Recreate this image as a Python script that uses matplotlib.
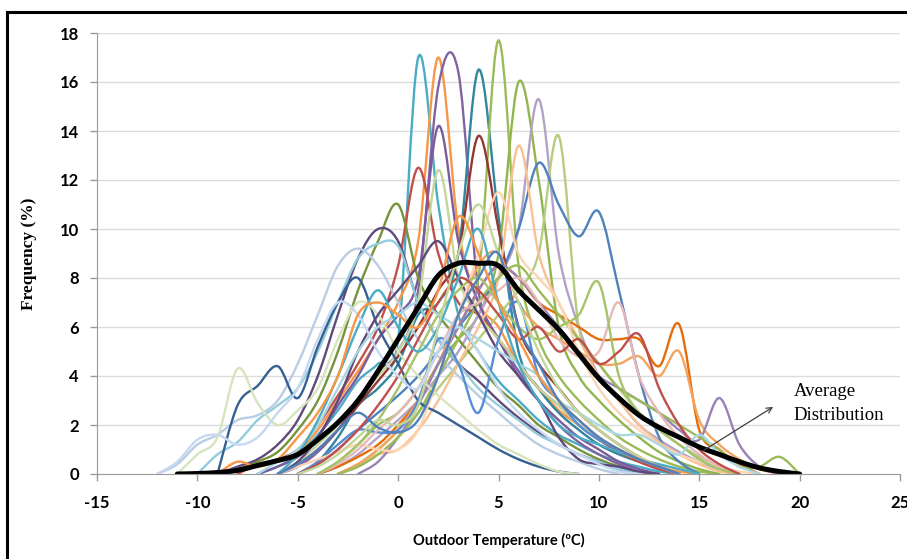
import matplotlib
matplotlib.use("Agg")
import matplotlib.pyplot as plt
from matplotlib.path import Path
from matplotlib.patches import PathPatch
from matplotlib.lines import Line2D

plt.rcParams["axes.unicode_minus"] = False

# ---------------- data (frequency % per 1 degC bin) ----------------
# each series: first temperature of the list, then its values
s01_start, s01 = -7, [0, 0.3, 0.8, 1.6, 2.6, 3.8, 4.5, 5.5, 17.0, 11.0, 6.5, 5.0, 3.8, 3.0, 2.2, 1.6, 1.2, 0.8, 0.5, 0.3, 0.1, 0]
s02_start, s02 = -8, [0, 0.4, 0.5, 0.9, 1.8, 3.0, 4.2, 5.5, 7.0, 9.5, 17.0, 10.0, 7.0, 6.0, 4.5, 3.5, 2.6, 2.0, 1.4, 1.0, 0.6, 0.3, 0.1, 0]
s03_start, s03 = -6, [0, 0.3, 0.9, 1.8, 3.0, 4.2, 5.0, 7.5, 15.8, 16.4, 7.5, 5.5, 4.2, 3.0, 2.0, 1.3, 0.8, 0.4, 0.1, 0]
s04_start, s04 = -5, [0, 0.5, 1.5, 2.8, 3.5, 4.5, 6.5, 7.0, 9.0, 16.5, 10.5, 5.0, 3.5, 2.5, 1.8, 1.2, 0.8, 0.5, 0.2, 0]
s05_start, s05 = -4, [0, 0.5, 1.2, 2.0, 2.5, 3.5, 5.0, 6.5, 8.0, 17.7, 8.5, 5.5, 4.0, 3.0, 2.2, 1.5, 1.0, 0.6, 0.3, 0.1, 0]
s06_start, s06 = -3, [0, 0.4, 1.0, 1.8, 3.0, 4.5, 5.5, 6.5, 9.0, 16.0, 12.0, 6.0, 4.0, 3.0, 2.2, 1.5, 0.9, 0.5, 0.2, 0]
s07_start, s07 = -4, [0, 0.3, 0.8, 1.5, 2.2, 3.0, 4.0, 5.0, 6.5, 8.0, 10.0, 15.3, 9.0, 6.0, 4.0, 3.0, 2.0, 1.4, 0.9, 0.5, 0.2, 0]
s08_start, s08 = -3, [0, 0.3, 0.8, 1.5, 2.5, 3.5, 4.5, 5.5, 6.5, 7.5, 9.0, 13.8, 6.0, 4.5, 3.5, 2.5, 1.8, 1.2, 0.7, 0.3, 0]
s09_start, s09 = -5, [0, 0.4, 1.0, 1.8, 2.5, 3.2, 4.0, 5.0, 6.0, 7.0, 8.0, 10.0, 12.7, 11.0, 9.7, 10.7, 7.5, 4.0, 1.5, 0.5, 0]
s10_start, s10 = -6, [0, 0.4, 1.0, 1.8, 2.8, 3.8, 4.8, 6.0, 7.5, 9.0, 13.8, 10.0, 6.0, 4.5, 3.5, 2.5, 1.8, 1.2, 0.7, 0.3, 0]
s11_start, s11 = -7, [0, 0.3, 0.7, 1.5, 2.8, 4.0, 5.5, 6.5, 8.0, 14.2, 9.5, 7.0, 5.5, 4.0, 3.0, 2.2, 1.5, 1.0, 0.5, 0.2, 0]
s12_start, s12 = -8, [0, 0.4, 0.6, 1.0, 2.0, 3.2, 4.5, 6.0, 8.5, 12.5, 9.0, 7.0, 6.5, 5.5, 4.5, 3.5, 2.8, 2.0, 1.4, 0.9, 0.5, 0.2, 0]
s13_start, s13 = -9, [0, 0.2, 0.5, 0.9, 1.8, 3.0, 5.0, 7.5, 9.5, 11.0, 8.0, 6.5, 5.5, 4.5, 3.5, 2.8, 2.0, 1.5, 1.0, 0.6, 0.3, 0]
s14_start, s14 = -9, [0, 0.3, 0.6, 1.2, 2.2, 4.0, 6.5, 8.8, 10.0, 9.5, 7.0, 5.5, 4.5, 3.8, 3.0, 2.3, 1.7, 1.2, 0.8, 0.5, 0.2, 0]
s15_start, s15 = -10, [0, 0.8, 1.3, 2.2, 2.8, 3.5, 5.0, 7.0, 8.8, 9.4, 9.3, 7.0, 5.5, 4.5, 3.5, 2.8, 2.2, 1.6, 1.2, 0.8, 0.5, 0.2, 0]
s16_start, s16 = -12, [0, 0.4, 1.2, 1.6, 2.2, 2.4, 3.0, 4.5, 6.5, 8.5, 9.2, 8.5, 7.0, 5.5, 4.8, 4.0, 3.2, 2.5, 1.8, 1.2, 0.8, 0.5, 0.2, 0]
s17_start, s17 = -3, [0, 0.4, 0.8, 1.0, 1.8, 3.0, 4.5, 6.0, 8.0, 13.4, 9.0, 7.0, 5.5, 4.0, 3.0, 2.0, 1.3, 0.8, 0.4, 0.1, 0]
s18_start, s18 = -6, [0, 0.5, 1.2, 2.0, 3.0, 4.0, 5.0, 7.0, 12.4, 8.0, 6.5, 5.5, 4.5, 3.5, 2.8, 2.0, 1.5, 1.0, 0.6, 0.3, 0]
s19_start, s19 = -4, [0, 0.3, 0.7, 1.2, 2.0, 3.0, 4.5, 6.0, 7.5, 8.5, 8.0, 7.0, 6.5, 6.0, 5.5, 5.5, 5.5, 4.4, 6.1, 1.8, 1.0, 0.4, 0]
s20_start, s20 = -3, [0, 0.4, 1.0, 1.8, 3.0, 4.5, 6.5, 8.5, 9.0, 7.0, 6.0, 5.5, 5.0, 4.5, 4.5, 4.8, 4.0, 5.0, 2.2, 1.2, 0.6, 0.2, 0]
s21_start, s21 = -2, [0, 0.5, 1.5, 2.8, 4.5, 6.0, 7.5, 8.5, 8.0, 7.0, 6.0, 5.0, 4.0, 3.5, 3.0, 2.5, 1.8, 1.4, 3.1, 1.2, 0.3, 0]
s22_start, s22 = -3, [0, 0.3, 0.8, 1.5, 2.5, 4.0, 5.5, 7.0, 8.0, 8.5, 7.5, 6.5, 5.5, 4.5, 3.5, 3.0, 2.5, 2.0, 1.5, 1.0, 0.3, 0.3, 0.7, 0]
s23_start, s23 = -9, [0, 2.8, 3.6, 4.4, 3.1, 5.2, 7.0, 8.0, 6.0, 4.5, 3.0, 2.5, 2.0, 1.5, 1.0, 0.6, 0.3, 0.1, 0]
s24_start, s24 = -11, [0, 0.8, 1.5, 4.3, 2.9, 2.0, 2.6, 3.5, 5.5, 7.0, 6.5, 5.0, 4.0, 3.2, 2.5, 1.8, 1.2, 0.8, 0.4, 0.1, 0]
s25_start, s25 = -6, [0, 0.5, 1.5, 3.0, 5.0, 6.5, 7.5, 8.5, 9.5, 8.0, 6.5, 5.0, 4.0, 3.0, 1.5, 0.6, 0.4, 0.3, 0.1, 0]
s26_start, s26 = -5, [0, 0.5, 1.2, 1.8, 1.7, 1.8, 3.0, 5.5, 4.5, 2.5, 5.5, 7.0, 4.0, 3.0, 2.0, 1.4, 1.0, 0.6, 0.3, 0]
s27_start, s27 = -6, [0, 0.3, 0.6, 0.9, 1.2, 1.0, 1.0, 1.8, 4.0, 6.5, 9.0, 11.5, 9.0, 8.0, 7.0, 5.0, 3.5, 2.5, 1.8, 1.2, 0.8, 0.5, 0.3, 0.1, 0]
s28_start, s28 = -4, [0, 0.4, 1.0, 1.8, 2.5, 3.5, 5.0, 6.5, 7.0, 7.5, 8.0, 7.0, 5.5, 4.8, 5.0, 7.0, 4.0, 2.5, 1.5, 0.8, 0.3, 0]
s29_start, s29 = -4, [0, 0.5, 1.2, 2.2, 3.5, 5.0, 6.5, 7.5, 8.0, 7.0, 6.0, 5.5, 6.0, 6.5, 7.8, 4.0, 2.5, 1.8, 1.2, 0.6, 0.2, 0]
s30_start, s30 = -5, [0, 0.4, 1.0, 1.8, 2.8, 4.0, 5.5, 7.0, 8.0, 7.5, 6.5, 5.5, 6.0, 5.0, 5.5, 4.5, 5.0, 5.7, 3.5, 2.0, 1.0, 0.4, 0]
s31_start, s31 = -7, [0, 0.5, 1.0, 2.0, 3.5, 5.0, 6.0, 6.5, 7.0, 6.5, 6.0, 5.5, 5.0, 4.5, 4.0, 3.0, 2.5, 2.0, 1.6, 1.6, 1.2, 0.8, 1.6, 0.8, 0.3, 0]
s32_start, s32 = -6, [0, 0.8, 2.2, 4.0, 6.0, 7.5, 6.0, 5.0, 6.0, 8.0, 10.0, 7.0, 4.5, 3.0, 2.0, 1.5, 1.2, 0.9, 0.6, 0.4, 0.2, 0]
s33_start, s33 = -5, [0, 0.3, 0.8, 1.5, 2.2, 2.0, 2.8, 6.0, 9.0, 11.0, 9.0, 7.0, 5.0, 3.5, 2.5, 1.8, 1.2, 0.7, 0.3, 0]
s34_start, s34 = -12, [0, 0.5, 1.4, 1.6, 1.2, 1.5, 2.5, 3.5, 5.5, 7.0, 6.5, 5.0, 4.0, 3.5, 5.0, 6.0, 5.0, 3.5, 2.5, 1.8, 1.2, 0.8, 0.4, 0.1, 0]
s35_start, s35 = -9, [0, 0.5, 0.3, 0.6, 1.5, 2.5, 4.0, 6.5, 7.0, 6.5, 6.0, 7.5, 10.5, 9.0, 7.0, 5.5, 4.0, 3.0, 2.2, 1.5, 1.0, 0.6, 0.3, 0]
s36_start, s36 = -6, [0, 0.4, 1.0, 1.8, 2.5, 1.9, 1.7, 2.2, 4.0, 6.5, 8.0, 9.0, 6.0, 4.5, 3.0, 2.2, 1.5, 1.0, 0.6, 0.3, 0]

avg_start = -11
avg = [0, 0.02, 0.06, 0.15, 0.35, 0.55, 0.8, 1.4, 2.1, 3.0, 4.2, 5.5, 6.8, 8.1, 8.6, 8.6, 8.5,
       7.5, 6.7, 5.9, 4.9, 3.9, 3.1, 2.4, 1.9, 1.5, 1.1, 0.8, 0.5, 0.25, 0.1, 0]

series = [
    (s01_start, s01, "#4BACC6"), (s02_start, s02, "#F79646"), (s03_start, s03, "#8064A2"),
    (s04_start, s04, "#31859C"), (s05_start, s05, "#9BBB59"), (s06_start, s06, "#92B550"),
    (s07_start, s07, "#B3A2C7"), (s08_start, s08, "#B7CC7E"), (s09_start, s09, "#4F81BD"),
    (s10_start, s10, "#943634"), (s11_start, s11, "#7A5C9E"), (s12_start, s12, "#C0504D"),
    (s13_start, s13, "#77933C"), (s14_start, s14, "#604A7B"), (s15_start, s15, "#93CDDD"),
    (s16_start, s16, "#B9CDE5"), (s17_start, s17, "#FAC090"), (s18_start, s18, "#C3D69B"),
    (s19_start, s19, "#E46C0A"), (s20_start, s20, "#F4A460"), (s21_start, s21, "#9983B5"),
    (s22_start, s22, "#9BBB59"), (s23_start, s23, "#376092"), (s24_start, s24, "#D7E4BD"),
    (s25_start, s25, "#5F497A"), (s26_start, s26, "#558ED5"), (s27_start, s27, "#FBD5B5"),
    (s28_start, s28, "#E6B9B8"), (s29_start, s29, "#A6C36A"), (s30_start, s30, "#C0504D"),
    (s31_start, s31, "#A9D8E4"), (s32_start, s32, "#4BACC6"), (s33_start, s33, "#C4D79B"),
    (s34_start, s34, "#C6D9F1"), (s35_start, s35, "#F79646"), (s36_start, s36, "#4F81BD"),
]

x_ticks = [-15, -10, -5, 0, 5, 10, 15, 20, 25]
y_ticks = [0, 2, 4, 6, 8, 10, 12, 14, 16, 18]


def smooth_path(xs, ys):
    """Excel-like smoothed line as cubic Bezier path through the data points."""
    n = len(xs)
    verts = [(xs[0], ys[0])]
    codes = [Path.MOVETO]
    for i in range(n - 1):
        x0, y0 = xs[max(i - 1, 0)], ys[max(i - 1, 0)]
        x1, y1 = xs[i], ys[i]
        x2, y2 = xs[i + 1], ys[i + 1]
        x3, y3 = xs[min(i + 2, n - 1)], ys[min(i + 2, n - 1)]
        c1 = (x1 + (x2 - x0) / 6.0, y1 + (y2 - y0) / 6.0)
        c2 = (x2 - (x3 - x1) / 6.0, y2 - (y3 - y1) / 6.0)
        verts += [c1, c2, (x2, y2)]
        codes += [Path.CURVE4] * 3
    return Path(verts, codes)


fig = plt.figure(figsize=(9.07, 5.59), dpi=100)
ax = fig.add_axes([97 / 907, 85 / 559, 803 / 907, 441 / 559])
ax.set_xlim(-15, 25)
ax.set_ylim(0, 18)

for start, vals, col in series:
    xs = list(range(start, start + len(vals)))
    ax.add_patch(PathPatch(smooth_path(xs, vals), fill=False, edgecolor=col,
                           lw=1.7, zorder=3, capstyle="round", joinstyle="round"))

xa = list(range(avg_start, avg_start + len(avg)))
ax.add_patch(PathPatch(smooth_path(xa, avg), fill=False, edgecolor="black",
                       lw=3.6, zorder=5, capstyle="round", joinstyle="round"))

# grid & axes styling
for yv in y_ticks[1:]:
    ax.axhline(yv, color="#DCDCDC", lw=1.0, zorder=1)
for sp in ["top", "right"]:
    ax.spines[sp].set_visible(False)
ax.spines["left"].set_color("#9A9A9A")
ax.spines["bottom"].set_color("#9A9A9A")
ax.spines["bottom"].set_zorder(6)
ax.set_xticks(x_ticks)
ax.set_yticks(y_ticks)
ax.tick_params(axis="both", colors="#9A9A9A", length=5, width=1, labelcolor="black",
               direction="out")
ax.tick_params(axis="x", pad=10)
ax.tick_params(axis="y", pad=8)
for lab in ax.get_xticklabels() + ax.get_yticklabels():
    lab.set_fontfamily("Lato")
    lab.set_fontweight("bold")
    lab.set_fontsize(12)

ax.set_xlabel("Outdoor Temperature (ºC)", fontfamily="Lato", fontweight="bold",
              fontsize=10.5, labelpad=16)
ax.set_ylabel("Frequency (%)", fontfamily="Liberation Serif", fontweight="bold",
              fontsize=12.5, labelpad=16)

# annotation
ax.annotate("", xy=(18.8, 2.8), xytext=(15.1, 0.9),
            arrowprops=dict(arrowstyle="->", color="#404040", lw=0.9), zorder=7)
ax.text(19.7, 3.35, "Average", fontfamily="Liberation Serif", fontsize=13.5,
        ha="left", va="center", zorder=7)
ax.text(19.7, 2.4, "Distribution", fontfamily="Liberation Serif", fontsize=13.5,
        ha="left", va="center", zorder=7)

# outer border (top and left edges visible)
fig.add_artist(Line2D([7 / 907, 905 / 907], [1 - 12 / 559, 1 - 12 / 559],
                      transform=fig.transFigure, color="black", lw=2.2))
fig.add_artist(Line2D([7 / 907, 7 / 907], [1 - 12 / 559, 0],
                      transform=fig.transFigure, color="black", lw=2.2))

fig.savefig("out.png", dpi=100)
